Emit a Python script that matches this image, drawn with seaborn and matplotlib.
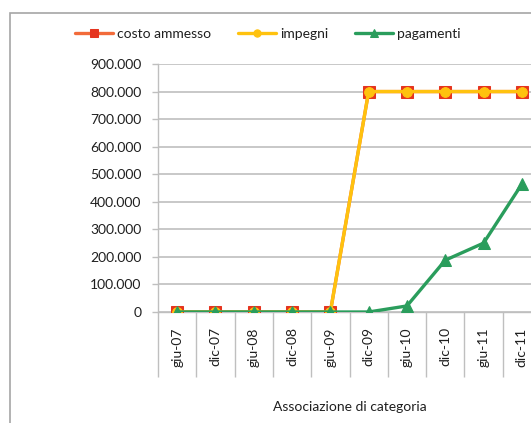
import matplotlib
matplotlib.use("Agg")
import matplotlib.pyplot as plt
from matplotlib.patches import Rectangle
import seaborn as sns
import pandas as pd

categories = ["giu-07", "dic-07", "giu-08", "dic-08", "giu-09",
              "dic-09", "giu-10", "dic-10", "giu-11", "dic-11"]
costo_ammesso = [0, 0, 0, 0, 0, 800000, 800000, 800000, 800000, 800000]
impegni = [0, 0, 0, 0, 0, 800000, 800000, 800000, 800000, 800000]
pagamenti = [0, 0, 0, 0, 0, 0, 22000, 188000, 250000, 464000]
y_ticks = [0, 100000, 200000, 300000, 400000, 500000, 600000, 700000, 800000, 900000]
x_label = "Associazione di categoria"

sns.set_theme(style="white")
plt.rcParams["font.family"] = ["Lato", "DejaVu Sans"]
text_color = "#1f1f1f"
FS = 10

fig = plt.figure(figsize=(5.31, 4.23), dpi=100)
W, H = 531, 423
ax = fig.add_axes([158 / W, 1 - 312 / H, (W - 158) / W, (312 - 64) / H])

x_idx = list(range(len(categories)))
df = pd.DataFrame({"x": x_idx, "costo": costo_ammesso, "imp": impegni, "pag": pagamenti})

sns.lineplot(data=df, x="x", y="costo", ax=ax, color="#F26B3A", linewidth=2.4,
             marker="s", markersize=8, markerfacecolor="#E5341F",
             markeredgecolor="#E5341F", label="costo ammesso", zorder=3)
sns.lineplot(data=df, x="x", y="imp", ax=ax, color="#FFC20E", linewidth=2.4,
             marker="o", markersize=7, markerfacecolor="#FFC20E",
             markeredgecolor="#FFC20E", label="impegni", zorder=4)
sns.lineplot(data=df, x="x", y="pag", ax=ax, color="#2A9D5C", linewidth=2.4,
             marker="^", markersize=8, markerfacecolor="#2A9D5C",
             markeredgecolor="#2A9D5C", label="pagamenti", zorder=5)

ax.set_yticks(y_ticks)
ax.set_yticklabels([f"{v:,}".replace(",", ".") for v in y_ticks],
                   fontsize=FS, color=text_color)
ax.set_xticks(x_idx)
ax.set_xticklabels(categories, rotation=90, fontsize=FS, color=text_color)
ax.set_xticks([i - 0.5 for i in range(len(categories) + 1)], minor=True)
ax.set_ylim(0, 900000)
ax.set_xlim(-0.5, (W - 158) / 38.3 - 0.5)
ax.tick_params(axis="x", which="major", length=0, pad=11)
ax.tick_params(axis="x", which="minor", length=47, width=1.0, color="#BFBFBF",
               direction="out", bottom=True)
ax.tick_params(axis="y", which="major", length=4, width=1.0, color="#BFBFBF",
               direction="out", left=True, pad=8)
ax.yaxis.grid(True, color="#BFBFBF", linewidth=1.2)
ax.xaxis.grid(False)
for s in ["top", "right"]:
    ax.spines[s].set_visible(False)
for s in ["left", "bottom"]:
    ax.spines[s].set_color("#BFBFBF")
    ax.spines[s].set_linewidth(1.0)

ax.set_ylabel("")
ax.set_xlabel(x_label, fontsize=FS, color=text_color)
ax.xaxis.label.set_va("center")
ax.xaxis.set_label_coords((350 - 158) / (W - 158), (312 - 407) / 248)

handles, labels = ax.get_legend_handles_labels()
ax.legend_.remove()
fig.legend(handles, labels, loc="center", bbox_to_anchor=(268 / W, 1 - 34 / H),
           ncol=3, frameon=False, fontsize=FS, handlelength=2.7,
           handletextpad=0.3, columnspacing=1.95, labelcolor=text_color,
           markerscale=0.75)

fig.add_artist(Rectangle((10 / W, -0.1), 1.2, 1 - 13 / H + 0.1,
                         transform=fig.transFigure, fill=False,
                         edgecolor="#A6A6A6", linewidth=1.2, clip_on=False))

fig.savefig("out.png", dpi=100)
